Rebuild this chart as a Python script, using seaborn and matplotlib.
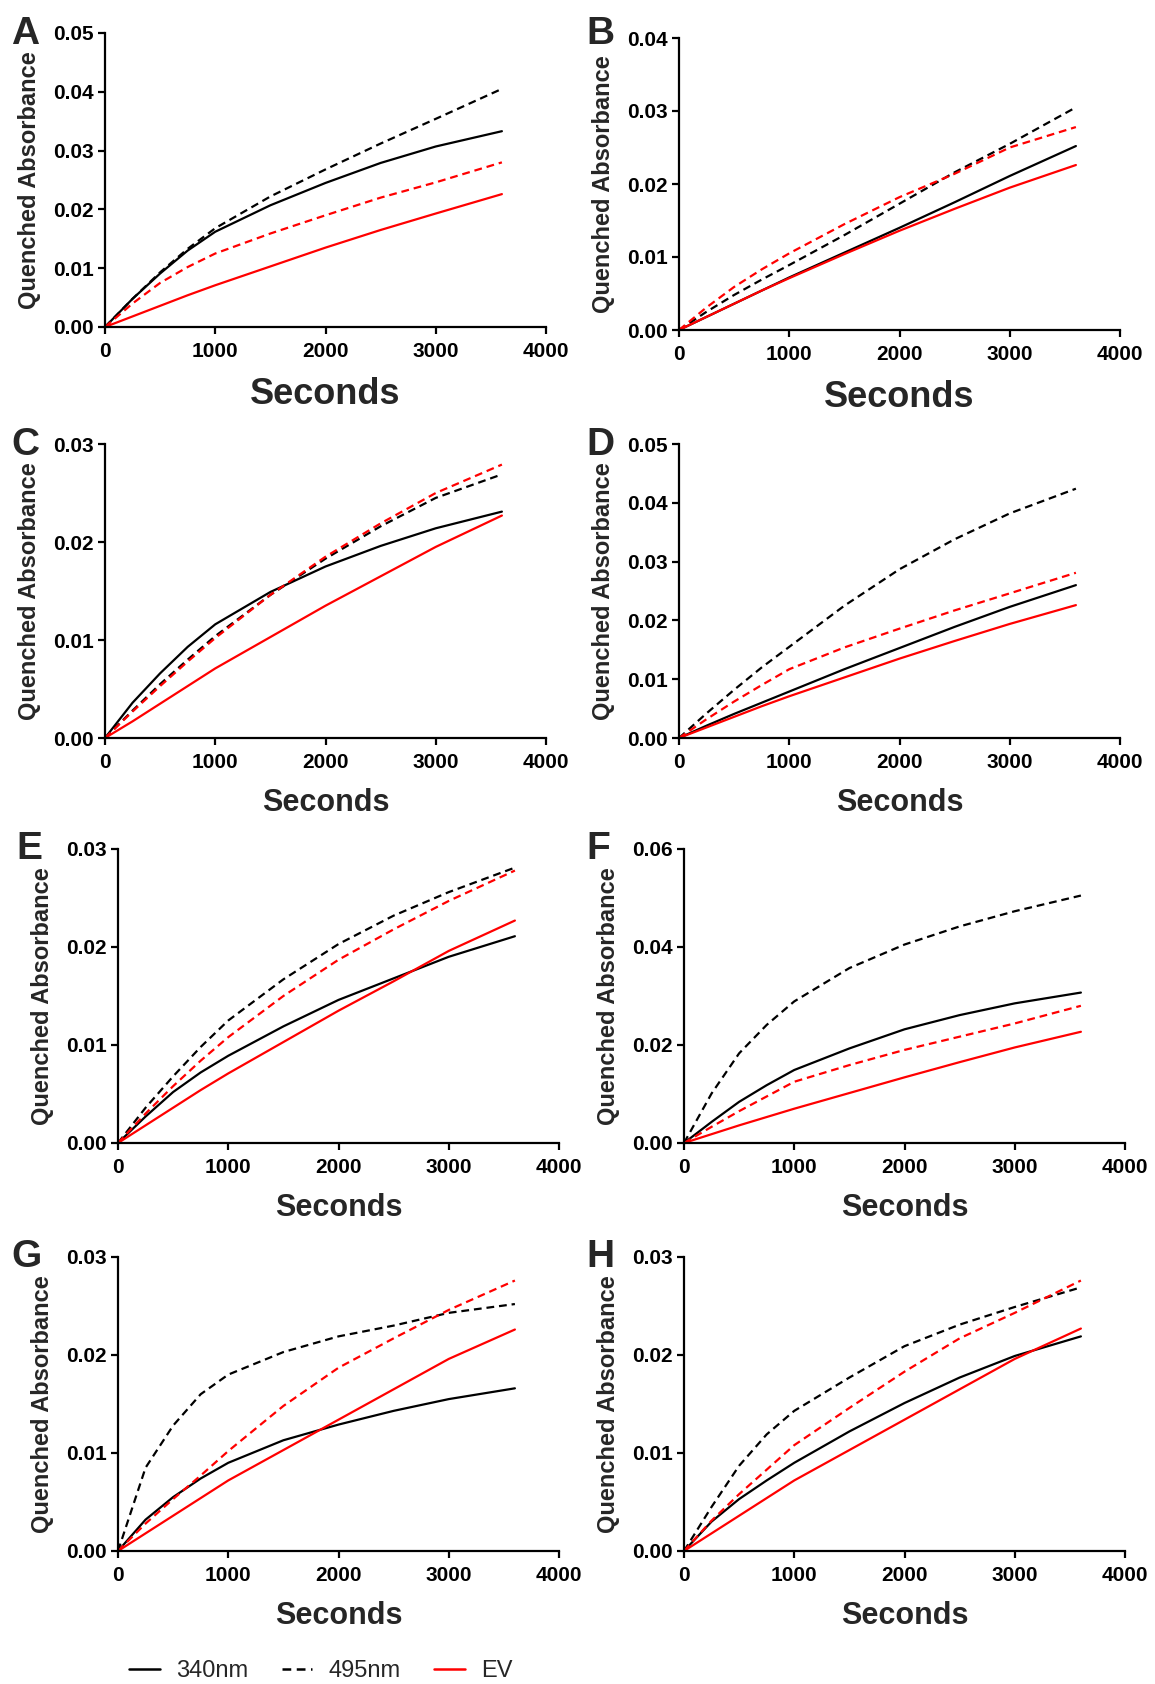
import numpy as np
import pandas as pd
import matplotlib
matplotlib.use("Agg")
import matplotlib.pyplot as plt
import seaborn as sns
from matplotlib.lines import Line2D

sns.set_style("ticks")
plt.rcParams['font.family'] = ['Liberation Sans', 'DejaVu Sans']

# time points (seconds)
t = [0, 250, 500, 750, 1000, 1500, 2000, 2500, 3000, 3600]

# panel A
A_340 = [0, 0.0048, 0.0091, 0.0130, 0.0162, 0.0207, 0.0245, 0.0279, 0.0307, 0.0333]
A_495 = [0, 0.0048, 0.0093, 0.0133, 0.0168, 0.0222, 0.0268, 0.0312, 0.0354, 0.0405]
A_ev340 = [0, 0.0018, 0.0036, 0.0054, 0.0071, 0.0103, 0.0135, 0.0165, 0.0193, 0.0226]
A_ev495 = [0, 0.0040, 0.0075, 0.0102, 0.0125, 0.0159, 0.0190, 0.0220, 0.0246, 0.0280]
# panel B
B_340 = [0, 0.0018, 0.0036, 0.0054, 0.0072, 0.0106, 0.0140, 0.0175, 0.0211, 0.0252]
B_495 = [0, 0.0025, 0.0048, 0.0069, 0.0089, 0.0130, 0.0173, 0.0216, 0.0255, 0.0305]
B_ev340 = [0, 0.0018, 0.0036, 0.0054, 0.0071, 0.0104, 0.0136, 0.0166, 0.0195, 0.0226]
B_ev495 = [0, 0.0031, 0.0059, 0.0083, 0.0105, 0.0145, 0.0182, 0.0214, 0.0250, 0.0278]
# panel C
C_340 = [0, 0.0036, 0.0066, 0.0093, 0.0116, 0.0149, 0.0175, 0.0196, 0.0214, 0.0231]
C_495 = [0, 0.0028, 0.0055, 0.0080, 0.0104, 0.0146, 0.0183, 0.0216, 0.0245, 0.0269]
C_ev340 = [0, 0.0017, 0.0035, 0.0053, 0.0071, 0.0103, 0.0135, 0.0165, 0.0195, 0.0227]
C_ev495 = [0, 0.0027, 0.0053, 0.0078, 0.0102, 0.0146, 0.0185, 0.0219, 0.0250, 0.0279]
# panel D
D_340 = [0, 0.0021, 0.0041, 0.0060, 0.0079, 0.0117, 0.0153, 0.0189, 0.0223, 0.0260]
D_495 = [0, 0.0042, 0.0082, 0.0120, 0.0155, 0.0225, 0.0287, 0.0338, 0.0382, 0.0424]
D_ev340 = [0, 0.0018, 0.0036, 0.0054, 0.0071, 0.0103, 0.0135, 0.0165, 0.0194, 0.0226]
D_ev495 = [0, 0.0032, 0.0062, 0.0090, 0.0117, 0.0154, 0.0186, 0.0217, 0.0246, 0.0281]
# panel E
E_340 = [0, 0.0027, 0.0052, 0.0072, 0.0089, 0.0119, 0.0146, 0.0168, 0.0190, 0.0211]
E_495 = [0, 0.0036, 0.0068, 0.0098, 0.0125, 0.0167, 0.0203, 0.0232, 0.0256, 0.0281]
E_ev340 = [0, 0.0018, 0.0036, 0.0054, 0.0071, 0.0103, 0.0135, 0.0165, 0.0196, 0.0227]
E_ev495 = [0, 0.0030, 0.0058, 0.0084, 0.0108, 0.0150, 0.0187, 0.0218, 0.0247, 0.0278]
# panel F
F_340 = [0, 0.0043, 0.0084, 0.0118, 0.0149, 0.0193, 0.0232, 0.0261, 0.0285, 0.0307]
F_495 = [0, 0.0101, 0.0183, 0.0241, 0.0289, 0.0357, 0.0405, 0.0442, 0.0473, 0.0505]
F_ev340 = [0, 0.0018, 0.0036, 0.0053, 0.0070, 0.0102, 0.0134, 0.0165, 0.0195, 0.0227]
F_ev495 = [0, 0.0033, 0.0065, 0.0095, 0.0125, 0.0159, 0.0190, 0.0217, 0.0244, 0.0280]
# panel G
G_340 = [0, 0.0032, 0.0055, 0.0074, 0.0090, 0.0113, 0.0129, 0.0143, 0.0155, 0.0166]
G_495 = [0, 0.0085, 0.0128, 0.0160, 0.0180, 0.0203, 0.0219, 0.0230, 0.0243, 0.0252]
G_ev340 = [0, 0.0018, 0.0036, 0.0054, 0.0072, 0.0103, 0.0134, 0.0165, 0.0196, 0.0226]
G_ev495 = [0, 0.0028, 0.0053, 0.0077, 0.0102, 0.0148, 0.0187, 0.0217, 0.0246, 0.0276]
# panel H
H_340 = [0, 0.0030, 0.0053, 0.0072, 0.0090, 0.0122, 0.0151, 0.0177, 0.0199, 0.0219]
H_495 = [0, 0.0045, 0.0087, 0.0119, 0.0143, 0.0177, 0.0209, 0.0231, 0.0249, 0.0269]
H_ev340 = [0, 0.0018, 0.0036, 0.0054, 0.0072, 0.0103, 0.0134, 0.0165, 0.0196, 0.0227]
H_ev495 = [0, 0.0031, 0.0058, 0.0083, 0.0108, 0.0146, 0.0183, 0.0217, 0.0243, 0.0276]

letters = ['A', 'B', 'C', 'D', 'E', 'F', 'G', 'H']
series = {
    'A': (A_340, A_495, A_ev340, A_ev495), 'B': (B_340, B_495, B_ev340, B_ev495),
    'C': (C_340, C_495, C_ev340, C_ev495), 'D': (D_340, D_495, D_ev340, D_ev495),
    'E': (E_340, E_495, E_ev340, E_ev495), 'F': (F_340, F_495, F_ev340, F_ev495),
    'G': (G_340, G_495, G_ev340, G_ev495), 'H': (H_340, H_495, H_ev340, H_ev495),
}
ymax = {'A': 0.05, 'B': 0.04, 'C': 0.03, 'D': 0.05, 'E': 0.03, 'F': 0.06, 'G': 0.03, 'H': 0.03}
ystep = {'A': 0.01, 'B': 0.01, 'C': 0.01, 'D': 0.01, 'E': 0.01, 'F': 0.02, 'G': 0.01, 'H': 0.01}

# axes boxes in pixels: left, right, top, bottom
W, H = 1155, 1684
boxes = {
    'A': (105, 546, 33, 327), 'B': (679, 1120, 38, 330),
    'C': (105, 546, 444, 738), 'D': (679, 1120, 444, 738),
    'E': (118, 559, 849, 1143), 'F': (684, 1125, 849, 1143),
    'G': (118, 559, 1257, 1551), 'H': (684, 1125, 1257, 1551),
}
letter_pos = {'A': (11, 16), 'B': (586, 16), 'C': (11, 427), 'D': (586, 427),
              'E': (16, 831), 'F': (586, 831), 'G': (11, 1239), 'H': (586, 1239)}

dash = (0, (3.5, 2.2))
styles = [('black', '-'), ('black', dash), ('#ff0000', '-'), ('#ff0000', dash)]

fig = plt.figure(figsize=(W / 100, H / 100), dpi=100)

for L in letters:
    l, r, tp, b = boxes[L]
    ax = fig.add_axes([l / W, 1 - b / H, (r - l) / W, (b - tp) / H])
    for vals, (c, ls) in zip(series[L], styles):
        sns.lineplot(x=t, y=vals, ax=ax, color=c, linestyle=ls, linewidth=1.6)
    ax.set_xlim(0, 4000)
    ax.set_ylim(0, ymax[L])
    ax.set_xticks([0, 1000, 2000, 3000, 4000])
    ax.set_yticks(np.arange(0, ymax[L] + 1e-9, ystep[L]))
    ax.yaxis.set_major_formatter(matplotlib.ticker.FormatStrFormatter('%.2f'))
    for s in ['top', 'right']:
        ax.spines[s].set_visible(False)
    for s in ['left', 'bottom']:
        ax.spines[s].set_linewidth(1.6)
        ax.spines[s].set_color('black')
    ax.tick_params(length=5, width=1.6, labelsize=15, pad=3, colors='black')
    ax.tick_params(axis='x', pad=6)
    for lab in ax.get_xticklabels() + ax.get_yticklabels():
        lab.set_fontweight('bold')
    ax.set_ylabel('Quenched Absorbance', fontsize=17, fontweight='bold')
    xs = 26 if L in 'AB' else 22
    ax.set_xlabel('Seconds', fontsize=xs, fontweight='bold')
    ax.yaxis.set_label_coords(-0.145, 0.5)
    ax.xaxis.set_label_coords(0.5, -0.17)
    lx, ly = letter_pos[L]
    fig.text(lx / W, 1 - ly / H, L, fontsize=28, fontweight='bold', va='top', ha='left')

handles = [Line2D([], [], color='black', lw=1.8, ls='-'),
           Line2D([], [], color='black', lw=1.8, ls=dash),
           Line2D([], [], color='#ff0000', lw=1.8, ls='-')]
fig.legend(handles, ['340nm', '495nm', 'EV'], loc='center', ncol=3, frameon=False,
           bbox_to_anchor=(321 / W, 1 - 1671 / H), fontsize=17, handlelength=1.3,
           handletextpad=0.7, columnspacing=1.4)

fig.savefig('out.png', dpi=100)
